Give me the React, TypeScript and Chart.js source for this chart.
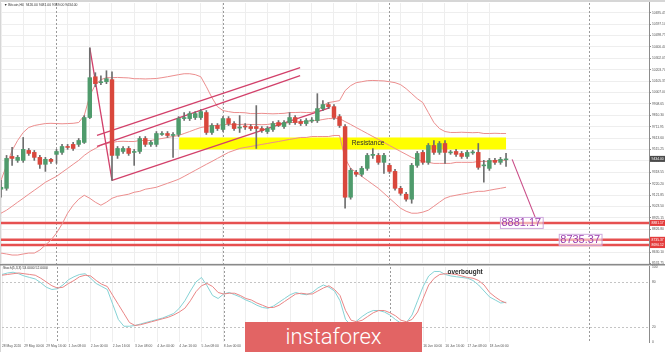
import React, { useEffect, useRef } from 'react';
import { Chart, registerables } from 'chart.js';

Chart.register(...registerables);

// ---------- DATA (H4 candles, index 0 = 28 May 08:00) ----------
const opens = [9172, 9180, 9455, 9421, 9421, 9507, 9490, 9447, 9387, 9430, 9473, 9490, 9541, 9559, 9559, 9576, 9791, 10143, 10092, 10100, 10118, 9464, 9498, 9524, 9490, 9498, 9610, 9559, 9559, 9645, 9653, 9636, 9645, 9782, 9782, 9791, 9791, 9834, 9662, 9722, 9688, 9782, 9739, 9700, 9718, 9713, 9713, 9696, 9670, 9688, 9748, 9713, 9748, 9791, 9756, 9739, 9761, 9765, 9868, 9903, 9885, 9799, 9713, 9103, 9318, 9301, 9352, 9464, 9464, 9404, 9378, 9326, 9180, 9129, 9086, 9378, 9490, 9404, 9550, 9490, 9567, 9486, 9498, 9481, 9455, 9486, 9490, 9374, 9352, 9421, 9404, 9426];
const highs = [9249, 9464, 9533, 9464, 9619, 9524, 9507, 9464, 9447, 9438, 9516, 9559, 9559, 9576, 9610, 9808, 10393, 10178, 10152, 10195, 10186, 9541, 9541, 9541, 9516, 9627, 9627, 9593, 9670, 9670, 9670, 9662, 9799, 9834, 9842, 9842, 9860, 9851, 9739, 9739, 9799, 9799, 9756, 9808, 9739, 9731, 9894, 9713, 9713, 9756, 9765, 9765, 9834, 9808, 9774, 9782, 9791, 9997, 9937, 9920, 9903, 9817, 9731, 9352, 9335, 9369, 9481, 9524, 9481, 9481, 9395, 9344, 9197, 9146, 9395, 9498, 9507, 9567, 9593, 9584, 9593, 9507, 9516, 9498, 9507, 9507, 9567, 9421, 9438, 9438, 9447, 9481];
const lows = [9103, 9163, 9378, 9404, 9404, 9464, 9421, 9352, 9326, 9395, 9395, 9473, 9516, 9507, 9541, 9567, 9782, 10057, 10075, 10083, 9249, 9438, 9481, 9464, 9378, 9481, 9541, 9541, 9541, 9636, 9619, 9447, 9627, 9765, 9765, 9774, 9774, 9645, 9645, 9679, 9670, 9722, 9679, 9662, 9688, 9679, 9524, 9662, 9653, 9670, 9713, 9696, 9731, 9731, 9722, 9722, 9748, 9748, 9851, 9868, 9774, 9705, 9008, 9086, 9283, 9283, 9335, 9438, 9387, 9309, 9309, 9163, 9120, 9068, 9051, 9361, 9387, 9387, 9473, 9473, 9395, 9473, 9455, 9438, 9438, 9473, 9344, 9232, 9335, 9387, 9387, 9369];
const closes = [9189, 9438, 9438, 9447, 9516, 9481, 9447, 9387, 9430, 9412, 9498, 9541, 9533, 9524, 9593, 9791, 10135, 10083, 10100, 10126, 9464, 9524, 9524, 9481, 9498, 9610, 9559, 9576, 9653, 9653, 9636, 9645, 9782, 9791, 9825, 9825, 9842, 9662, 9722, 9696, 9782, 9739, 9696, 9709, 9709, 9696, 9696, 9679, 9696, 9739, 9722, 9748, 9791, 9748, 9739, 9765, 9769, 9868, 9903, 9885, 9791, 9722, 9103, 9335, 9301, 9352, 9464, 9473, 9404, 9464, 9326, 9180, 9137, 9086, 9378, 9481, 9404, 9550, 9490, 9567, 9490, 9494, 9473, 9455, 9490, 9494, 9361, 9382, 9421, 9404, 9430, 9434];

// Bollinger bands
const bbUpper = [9249, 9378, 9507, 9593, 9662, 9705, 9722, 9731, 9739, 9741, 9739, 9737, 9739, 9741, 9748, 9808, 9980, 10075, 10118, 10135, 10135, 10137, 10135, 10133, 10126, 10126, 10124, 10126, 10128, 10135, 10143, 10152, 10161, 10169, 10169, 10161, 10143, 10057, 9963, 9885, 9851, 9842, 9834, 9834, 9832, 9825, 9825, 9827, 9825, 9823, 9825, 9827, 9834, 9834, 9836, 9834, 9834, 9851, 9894, 9920, 9928, 9937, 10023, 10066, 10092, 10100, 10109, 10111, 10109, 10107, 10100, 10092, 10075, 10040, 9997, 9954, 9920, 9834, 9748, 9696, 9670, 9662, 9662, 9664, 9662, 9660, 9662, 9653, 9653, 9655, 9653, 9653];
const bbMiddle = [8965, 8991, 9025, 9060, 9094, 9129, 9163, 9197, 9232, 9258, 9283, 9318, 9352, 9387, 9421, 9464, 9498, 9524, 9550, 9567, 9576, 9584, 9586, 9584, 9584, 9593, 9593, 9593, 9602, 9610, 9619, 9627, 9636, 9653, 9670, 9688, 9705, 9713, 9722, 9722, 9731, 9731, 9729, 9731, 9733, 9731, 9731, 9729, 9731, 9739, 9739, 9739, 9748, 9748, 9756, 9756, 9765, 9765, 9774, 9782, 9782, 9782, 9756, 9731, 9705, 9679, 9653, 9627, 9602, 9576, 9550, 9524, 9498, 9473, 9447, 9430, 9412, 9404, 9395, 9395, 9395, 9395, 9404, 9404, 9404, 9404, 9412, 9412, 9412, 9421, 9421, 9421];
const bbLower = [8621, 8613, 8604, 8604, 8613, 8621, 8621, 8647, 8690, 8733, 8793, 8871, 8965, 9034, 9086, 9120, 9094, 9060, 9034, 9060, 9094, 9111, 9120, 9129, 9146, 9154, 9172, 9180, 9189, 9206, 9223, 9240, 9258, 9283, 9309, 9335, 9361, 9387, 9412, 9438, 9464, 9490, 9507, 9524, 9533, 9541, 9550, 9559, 9567, 9576, 9584, 9593, 9602, 9610, 9619, 9619, 9627, 9627, 9627, 9627, 9636, 9636, 9438, 9352, 9318, 9283, 9249, 9214, 9180, 9137, 9094, 9051, 9008, 8982, 8965, 8965, 8974, 8991, 9025, 9060, 9094, 9111, 9120, 9129, 9137, 9146, 9154, 9154, 9163, 9172, 9180, 9189];

// Stochastic (5,3,3)
const stochK = [90, 92, 93, 91, 88, 86, 84, 79, 73, 70, 71, 76, 83, 87, 90, 91, 85, 78, 74, 70, 50, 30, 21, 21, 22, 24, 26, 28, 30, 32, 35, 38, 45, 55, 68, 80, 86, 75, 62, 58, 64, 66, 63, 60, 56, 53, 49, 46, 45, 48, 53, 58, 63, 66, 64, 63, 66, 72, 76, 73, 68, 55, 30, 22, 28, 34, 39, 42, 42, 40, 36, 30, 25, 26, 36, 55, 74, 88, 94, 94, 90, 88, 87, 86, 85, 82, 76, 68, 60, 56, 52, 53];
const stochD = [89, 90, 91, 92, 91, 90, 89, 85, 80, 75, 72, 73, 78, 82, 87, 89, 88, 82, 77, 74, 62, 50, 38, 26, 22, 23, 25, 27, 29, 31, 33, 36, 40, 45, 55, 67, 75, 78, 74, 66, 64, 65, 65, 62, 58, 56, 52, 49, 46, 46, 49, 54, 59, 64, 65, 64, 64, 68, 72, 75, 70, 62, 42, 29, 27, 29, 34, 39, 42, 42, 39, 35, 29, 27, 30, 40, 58, 76, 85, 90, 91, 91, 90, 88, 86, 85, 82, 76, 66, 60, 55, 52];

// Axis labels
const timeLabels = ['28 May 2020', '29 May 00:00', '29 May 16:00', '1 Jun 08:00', '2 Jun 00:00', '2 Jun 16:00', '3 Jun 08:00', '4 Jun 00:00', '4 Jun 16:00', '5 Jun 08:00', '8 Jun 00:00', '8 Jun 16:00', '9 Jun 08:00', '10 Jun 00:00', '10 Jun 16:00', '11 Jun 08:00', '12 Jun 00:00', '12 Jun 16:00', '15 Jun 08:00', '16 Jun 00:00', '16 Jun 16:00', '17 Jun 08:00', '18 Jun 00:00'];
const priceTicks = [8531.75, 8630.10, 8728.45, 8826.80, 8925.15, 9023.50, 9121.85, 9220.20, 9318.55, 9416.90, 9515.25, 9613.60, 9711.95, 9810.30, 9908.65, 10007.00, 10105.35, 10203.70, 10302.05, 10400.40, 10498.75, 10597.10, 10695.45];
const stochTicks = [0, 20, 80, 100];
const stochLevels = [20, 80];

// Annotations
const weekSeparators = [10, 40, 70, 106];
const levelPrices = [8881.17, 8735.37, 8690.12];
const zoneFrom = 32.1;
const zoneTo = 91;
const zoneLow = 9515.6;
const zoneHigh = 9618.8;
const spikeLine = [{ x: 16, y: 10393 }, { x: 20, y: 9249 }];
const channelLow = [{ x: 20, y: 9249 }, { x: 59.3, y: 9877 }];
const channelUpA = [{ x: 17.3, y: 9636 }, { x: 53.9, y: 10221 }];
const channelUpB = [{ x: 17.3, y: 9541 }, { x: 53.9, y: 10152 }];
const projection = [{ x: 92.1, y: 9430 }, { x: 96.6, y: 8888 }];

const X_MIN = 0;
const X_MAX = 116.76;
const PRICE_MAX = 10779.8;
const PRICE_MIN = 8526.6;

const FONT = '"Liberation Sans", Arial, sans-serif';
const GREEN = '#4f9b6c';
const RED = '#d9473c';
const BAND = '#ec8e8e';
const LINE_RED = '#d2406a';

function drawSeparators(chart: any) {
  const { ctx, chartArea, scales } = chart;
  ctx.save();
  ctx.strokeStyle = '#9a9a9a';
  ctx.lineWidth = 1;
  ctx.setLineDash([2, 2]);
  weekSeparators.forEach((v) => {
    const px = Math.round(scales.x.getPixelForValue(v)) + 0.5;
    ctx.beginPath();
    ctx.moveTo(px, chartArea.top);
    ctx.lineTo(px, chartArea.bottom);
    ctx.stroke();
  });
  ctx.restore();
}

function xScaleOpts(showLabels: boolean) {
  return {
    type: 'linear',
    min: X_MIN,
    max: X_MAX,
    offset: false,
    afterBuildTicks: (s: any) => {
      s.ticks = timeLabels.map((_, k) => ({ value: k * 4 }));
    },
    afterFit: (s: any) => {
      s.height = showLabels ? 10 : 0;
    },
    grid: { color: '#eeeeee', offset: false, drawTicks: false },
    border: { display: false },
    ticks: {
      display: showLabels,
      autoSkip: false,
      maxRotation: 0,
      minRotation: 0,
      align: 'start',
      padding: 2,
      color: '#555',
      font: { size: 3.3, family: FONT },
      callback: (v: number) => timeLabels[Math.round(v / 4)] ?? '',
    },
  };
}

function valueBox(ctx: CanvasRenderingContext2D, x: number, y: number, text: string) {
  ctx.font = `11px ${FONT}`;
  const w = ctx.measureText(text).width + 3;
  ctx.fillStyle = 'rgba(255,255,255,0.55)';
  ctx.fillRect(x, y - 5.5, w, 11);
  ctx.strokeStyle = '#cfa9dd';
  ctx.lineWidth = 1;
  ctx.strokeRect(x + 0.5, y - 5.5, w, 11);
  ctx.fillStyle = '#9b3fae';
  ctx.textAlign = 'left';
  ctx.textBaseline = 'middle';
  ctx.fillText(text, x + 1.5, y + 0.5);
}

function axisTag(ctx: CanvasRenderingContext2D, x: number, y: number, text: string, bg: string) {
  ctx.fillStyle = bg;
  ctx.fillRect(x, y - 3, 15, 6);
  ctx.fillStyle = '#fff';
  ctx.font = `3.4px ${FONT}`;
  ctx.textAlign = 'left';
  ctx.textBaseline = 'middle';
  ctx.fillText(text, x + 1.5, y + 0.3);
}

const mainPlugin = {
  id: 'mainDecor',
  beforeDraw(chart: any) {
    const { ctx } = chart;
    ctx.save();
    ctx.fillStyle = '#ffffff';
    ctx.fillRect(0, 0, chart.width, chart.height);
    ctx.fillStyle = '#d6d6d6';
    ctx.fillRect(0, 0, chart.width, 2);
    ctx.fillRect(0, 0, 1, chart.height);
    ctx.restore();
  },
  beforeDatasetsDraw(chart: any) {
    const { ctx, chartArea, scales } = chart;
    drawSeparators(chart);
    ctx.save();
    ctx.beginPath();
    ctx.rect(chartArea.left, chartArea.top, chartArea.right - chartArea.left, chartArea.bottom - chartArea.top);
    ctx.clip();
    const x0 = scales.x.getPixelForValue(zoneFrom);
    const x1 = scales.x.getPixelForValue(zoneTo);
    const y0 = scales.y.getPixelForValue(zoneHigh);
    const y1 = scales.y.getPixelForValue(zoneLow);
    ctx.fillStyle = '#ffff00';
    ctx.fillRect(x0, y0, x1 - x0, y1 - y0);
    ctx.restore();
  },
  afterDraw(chart: any) {
    const { ctx, scales } = chart;
    const x = scales.x;
    const y = scales.y;
    ctx.save();
    ctx.font = `6.6px ${FONT}`;
    ctx.fillStyle = '#2a2a2a';
    ctx.textAlign = 'left';
    ctx.textBaseline = 'middle';
    ctx.fillText('Resistance', x.getPixelForValue(63.2), y.getPixelForValue((zoneLow + zoneHigh) / 2));

    valueBox(ctx, x.getPixelForValue(89.9), y.getPixelForValue(levelPrices[0]), levelPrices[0].toFixed(2));
    valueBox(ctx, x.getPixelForValue(100.5), y.getPixelForValue(levelPrices[1]), levelPrices[1].toFixed(2));

    const ax = chart.chartArea.right + 1;
    levelPrices.forEach((p) => axisTag(ctx, ax, y.getPixelForValue(p), p.toFixed(2), '#e43c3c'));
    const last = closes[closes.length - 1];
    axisTag(ctx, ax, y.getPixelForValue(last), last.toFixed(2), '#4a4a4a');

    const n = opens.length - 1;
    ctx.font = `3.4px ${FONT}`;
    ctx.fillStyle = '#333';
    ctx.textAlign = 'left';
    ctx.textBaseline = 'middle';
    ctx.fillText(`\u25BC Bitcoin,H4  ${opens[n].toFixed(2)} ${highs[n].toFixed(2)} ${lows[n].toFixed(2)} ${closes[n].toFixed(2)}`, 4, 5);
    ctx.restore();
  },
};

const stochPlugin = {
  id: 'stochDecor',
  beforeDraw(chart: any) {
    const { ctx } = chart;
    ctx.save();
    ctx.fillStyle = '#ffffff';
    ctx.fillRect(0, 0, chart.width, chart.height);
    ctx.fillStyle = '#d6d6d6';
    ctx.fillRect(0, 0, 1, chart.height);
    ctx.strokeStyle = '#8a8a8a';
    ctx.lineWidth = 1.5;
    ctx.beginPath();
    ctx.moveTo(0, 0.75);
    ctx.lineTo(chart.width, 0.75);
    ctx.stroke();
    ctx.restore();
  },
  beforeDatasetsDraw(chart: any) {
    const { ctx, chartArea, scales } = chart;
    drawSeparators(chart);
    ctx.save();
    ctx.strokeStyle = '#c4c4c4';
    ctx.lineWidth = 1;
    ctx.setLineDash([2, 2]);
    stochLevels.forEach((lv) => {
      const py = Math.round(scales.y.getPixelForValue(lv)) + 0.5;
      ctx.beginPath();
      ctx.moveTo(chartArea.left, py);
      ctx.lineTo(chartArea.right, py);
      ctx.stroke();
    });
    ctx.restore();
  },
  afterDraw(chart: any) {
    const { ctx, scales } = chart;
    ctx.save();
    const n = stochK.length - 1;
    ctx.font = `3.4px ${FONT}`;
    ctx.fillStyle = '#333';
    ctx.textAlign = 'left';
    ctx.textBaseline = 'middle';
    ctx.fillText(`Stoch(5,3,3) ${stochK[n].toFixed(4)} ${stochD[n].toFixed(4)}`, 3, 4.5);
    ctx.font = `bold 6.4px ${FONT}`;
    ctx.fillStyle = '#2a2a2a';
    ctx.fillText('overbought', scales.x.getPixelForValue(80.4), scales.y.getPixelForValue(93.5));
    ctx.restore();
  },
};

function lineDs(data: any[], color: string, width: number, order: number) {
  return {
    type: 'line',
    data,
    borderColor: color,
    borderWidth: width,
    pointRadius: 0,
    fill: false,
    tension: 0,
    order,
  };
}

export default function App() {
  const mainRef = useRef<HTMLCanvasElement>(null);
  const stochRef = useRef<HTMLCanvasElement>(null);

  useEffect(() => {
    const bodies = opens.map((o, i) => ({ x: i, y: [o, closes[i]] }));
    const wicks = opens.map((_, i) => ({ x: i, y: [lows[i], highs[i]] }));
    const bodyColors = opens.map((o, i) => (closes[i] >= o ? GREEN : RED));
    const toPts = (arr: number[]) => arr.map((v, i) => ({ x: i, y: v }));

    const main = new Chart(mainRef.current as HTMLCanvasElement, {
      type: 'bar',
      data: {
        datasets: [
          {
            type: 'bar',
            data: bodies,
            backgroundColor: bodyColors,
            borderWidth: 0,
            barThickness: 3.8,
            grouped: false,
            order: 0,
          },
          {
            type: 'bar',
            data: wicks,
            backgroundColor: '#6e6e6e',
            borderWidth: 0,
            barThickness: 1,
            grouped: false,
            order: 1,
          },
          lineDs(spikeLine, LINE_RED, 1.3, 2),
          lineDs(channelLow, LINE_RED, 1.3, 2),
          lineDs(channelUpA, LINE_RED, 1.3, 2),
          lineDs(channelUpB, LINE_RED, 1.3, 2),
          lineDs(projection, '#c94a86', 1.1, 2),
          lineDs(toPts(bbUpper), BAND, 1, 4),
          lineDs(toPts(bbMiddle), BAND, 1, 4),
          lineDs(toPts(bbLower), BAND, 1, 4),
          ...levelPrices.map((p) => lineDs([{ x: -2, y: p }, { x: 120, y: p }], '#e65050', 2.4, 5)),
        ] as any,
      },
      options: {
        responsive: false,
        animation: false,
        devicePixelRatio: 1,
        events: [],
        layout: { padding: { left: 1, right: 0, top: 2, bottom: 4 } },
        plugins: { legend: { display: false }, tooltip: { enabled: false } },
        scales: {
          x: xScaleOpts(false) as any,
          y: {
            type: 'linear',
            position: 'right',
            min: PRICE_MIN,
            max: PRICE_MAX,
            afterBuildTicks: (s: any) => {
              s.ticks = priceTicks.filter((v) => v >= PRICE_MIN && v <= PRICE_MAX).map((v) => ({ value: v }));
            },
            afterFit: (s: any) => {
              s.width = 16;
            },
            grid: { color: '#eeeeee', drawTicks: true, tickLength: 2, tickColor: '#8c8c8c' },
            border: { display: true, color: '#8c8c8c' },
            ticks: {
              padding: 1,
              color: '#555',
              font: { size: 3.3, family: FONT },
              callback: (v: number) => Number(v).toFixed(2),
            },
          },
        },
      },
      plugins: [mainPlugin],
    } as any);

    const stoch = new Chart(stochRef.current as HTMLCanvasElement, {
      type: 'line',
      data: {
        datasets: [
          lineDs(toPts(stochK), '#86d3d6', 1, 1),
          lineDs(toPts(stochD), '#ea8686', 1, 0),
        ] as any,
      },
      options: {
        responsive: false,
        animation: false,
        devicePixelRatio: 1,
        events: [],
        layout: { padding: { left: 1, right: 0, top: 2, bottom: 0 } },
        plugins: { legend: { display: false }, tooltip: { enabled: false } },
        scales: {
          x: xScaleOpts(true) as any,
          y: {
            type: 'linear',
            position: 'right',
            min: 0,
            max: 100,
            afterBuildTicks: (s: any) => {
              s.ticks = stochTicks.map((v) => ({ value: v }));
            },
            afterFit: (s: any) => {
              s.width = 16;
            },
            grid: { display: false, drawTicks: true, tickLength: 2, tickColor: '#8c8c8c' },
            border: { display: true, color: '#8c8c8c' },
            ticks: {
              padding: 1,
              color: '#555',
              font: { size: 3.3, family: FONT },
              callback: (v: number) => String(v),
            },
          },
        },
      },
      plugins: [stochPlugin],
    } as any);

    return () => {
      main.destroy();
      stoch.destroy();
    };
  }, []);

  const logoStyle: React.CSSProperties = {
    position: 'absolute',
    left: 245,
    top: 322,
    width: 177,
    height: 30,
    background: '#e26464',
    color: '#fff',
    fontFamily: 'Roboto, "Open Sans", sans-serif',
    fontWeight: 300,
    fontSize: 22,
    lineHeight: '30px',
    textAlign: 'center',
  };

  return (
    <div style={{ position: 'fixed', left: 0, top: 0, width: 665, height: 352, background: '#fff', overflow: 'hidden' }}>
      <canvas ref={mainRef} width={665} height={268} style={{ position: 'absolute', left: 0, top: 0 }} />
      <canvas ref={stochRef} width={665} height={88} style={{ position: 'absolute', left: 0, top: 264 }} />
      <div style={logoStyle}>instaforex</div>
    </div>
  );
}
